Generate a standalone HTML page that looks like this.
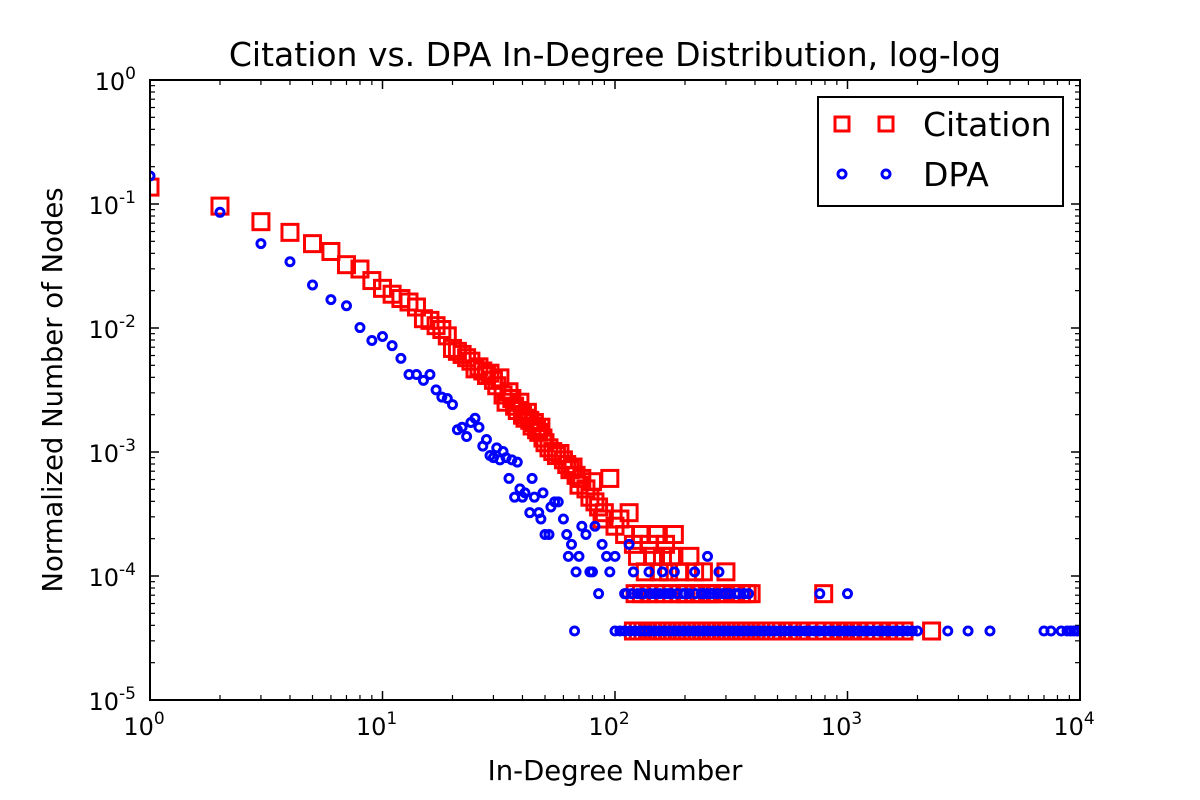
<!DOCTYPE html>
<html><head><meta charset="utf-8"><style>
html,body{margin:0;padding:0;background:#fff;}
svg{display:block;font-family:"DejaVu Sans","Liberation Sans",sans-serif;}
</style></head><body>
<svg id="chart" width="1200" height="800" viewBox="0 0 1200 800" xmlns="http://www.w3.org/2000/svg">
<rect width="1200" height="800" fill="#fff"/>
<text x="615" y="66" font-size="33" text-anchor="middle">Citation vs. DPA In-Degree Distribution, log-log</text>
<text x="615" y="780" font-size="27.5" text-anchor="middle">In-Degree Number</text>
<text transform="translate(62,390) rotate(-90)" font-size="27.5" text-anchor="middle">Normalized Number of Nodes</text>
<g id="ticks"></g>
<g id="marks"></g>
<rect x="150" y="80" width="930" height="620" fill="none" stroke="#000" stroke-width="2"/>
<g>
<rect x="818" y="97" width="245" height="109" fill="#fff" stroke="#000" stroke-width="2"/>
<g>
<rect x="835" y="117" width="14" height="14" fill="none" stroke="#f00" stroke-width="3"/>
<rect x="879" y="117" width="14" height="14" fill="none" stroke="#f00" stroke-width="3"/>
<text x="923" y="136" font-size="33">Citation</text></g>
<g>
<circle cx="842" cy="174" r="4" fill="none" stroke="#00f" stroke-width="3"/>
<circle cx="886" cy="174" r="4" fill="none" stroke="#00f" stroke-width="3"/>
<text x="923" y="186" font-size="33">DPA</text></g>
</g>
</svg>
<script>
const TOTAL = 27770;
const xTickExps = [0,1,2,3,4];
const yTickExps = [-5,-4,-3,-2,-1,0];
const citDeg = [1,2,3,4,5,6,7,8,9,10,11,12,13,14,15,16,17,18,19,20,21,22,23,24,25,26,27,28,29,30,31,32,33,34,35,36,37,38,39,40,41,42,43,44,45,46,47,48,49,50,52,54,56,58,60,62,64,66,68,70,72,75,78,80,82,85,88,90,95,100,105,110,115,120,125,130,135,140,145,150,155,160,165,170,175,180,190,200,210,220,230,240,250,260,300,330,370,790];
const citCnt = [3800,2670,2000,1640,1330,1150,900,830,670,580,520,480,450,410,330,320,290,270,240,190,180,170,160,150,130,135,125,115,120,105,95,110,80,70,85,75,65,60,70,55,52,58,50,45,48,42,40,44,36,33,30,28,26,27,24,22,20,21,18,15,17,14,12,16,11,10,8,9,17,7,8,6,9,5,4,6,3,5,4,6,3,4,5,3,4,6,3,2,4,3,2,3,2,2,3,2,2,2];
const citTailDeg = [120,126,132,138,145,152,160,168,176,185,194,204,214,225,236,248,260,273,287,301,316,332,349,366,385,404,424,445,470,495,520,560,620,680,740,800,860,920,980,1050,1120,1200,1300,1400,1500,1600,1750,2300];
const citTailCnt = citTailDeg.map(()=>1);
const citTwoDeg = [122,130,140,150,162,175,188,202,218,235,255,275,290,320,350,385];
const citTwoCnt = citTwoDeg.map(()=>2);
const dpaDeg = [1,2,3,4,5,6,7,8,9,10,11,12,13,14,15,16,17,18,19,20,21,22,23,24,25,26,27,28,29,30,31,32,33,34,35,36,37,38,39,40,41,43,44,45,47,48,49,50,52,53,55,57,60,62,63,65,68,70,72,75,78,80,82,85,88,92,95,100,110,115,120,130,140,150,160,170,180,200,220,240,250,260,280,300,330,360,760,1000];
const dpaCnt = [4670,2380,1330,950,617,470,420,280,220,237,200,158,117,117,105,117,88,77,75,67,42,44,37,48,52,44,31,35,26,25,30,24,28,25,17,24,12,23,14,12,13,9,17,12,9,8,13,6,6,10,11,11,8,6,4,5,3,4,7,6,3,3,7,2,5,4,3,4,2,5,3,2,3,2,3,2,3,2,3,2,4,2,3,2,2,2,2,2];
const dpaTwoDeg = [112,118,125,133,142,148,156,165,175,185,196,208,222,235,248,262,275,290,310,340,375];
const dpaTwoCnt = dpaTwoDeg.map(()=>2);
const dpaTailDeg = [67,100,105,110,116,122,128,134,140,147,154,162,170,178,187,196,206,216,227,238,250,262,275,289,303,318,334,351,368,386,405,425,446,468,491,515,540,567,595,625,656,688,722,758,796,835,877,920,966,1014,1064,1117,1172,1230,1291,1355,1422,1492,1566,1644,1725,1810,1900,2000,2700,3300,4100,7000,7500,8300,8800,9100,9400,9700];
const dpaTailCnt = dpaTailDeg.map(()=>1);

const NS="http://www.w3.org/2000/svg";
const X0=150,X1=1080,Y0=700,Y1=80;
function xs(v){return X0+(Math.log10(v)-0)/4*(X1-X0);}
function ys(v){return Y0-(Math.log10(v)+5)/5*(Y0-Y1);}
function mk(tag,attrs,parent){const e=document.createElementNS(NS,tag);for(const k in attrs)e.setAttribute(k,attrs[k]);parent.appendChild(e);return e;}
const tg=document.getElementById('ticks');
xTickExps.forEach(e=>{
  const x=xs(Math.pow(10,e));
  const l1=mk('line',{x1:x,x2:x,y1:Y0,y2:Y0-9,stroke:'#000','stroke-width':1.5},tg);
  
  
  mk('line',{x1:x,x2:x,y1:Y1,y2:Y1+9,stroke:'#000','stroke-width':1.5},tg);
  const t=mk('text',{x:x-6,y:735,'font-size':24,'text-anchor':'middle'},tg);
  
  
  t.innerHTML='10<tspan dy="-11" font-size="17">'+e+'</tspan>';
  if(e<4)for(let m=2;m<10;m++){const xm=xs(m*Math.pow(10,e));
    mk('line',{x1:xm,x2:xm,y1:Y0,y2:Y0-5,stroke:'#000','stroke-width':1.2},tg);
    mk('line',{x1:xm,x2:xm,y1:Y1,y2:Y1+5,stroke:'#000','stroke-width':1.2},tg);}
});
yTickExps.forEach(e=>{
  const y=ys(Math.pow(10,e));
  mk('line',{x1:X0,x2:X0+9,y1:y,y2:y,stroke:'#000','stroke-width':1.5},tg);
  mk('line',{x1:X1,x2:X1-9,y1:y,y2:y,stroke:'#000','stroke-width':1.5},tg);
  const t=mk('text',{x:136,y:y+10,'font-size':24,'text-anchor':'end'},tg);
  
  
  t.innerHTML='10<tspan dy="-11" font-size="17">'+e+'</tspan>';
  if(e<0)for(let m=2;m<10;m++){const ym=ys(m*Math.pow(10,e));
    mk('line',{x1:X0,x2:X0+5,y1:ym,y2:ym,stroke:'#000','stroke-width':1.2},tg);
    mk('line',{x1:X1,x2:X1-5,y1:ym,y2:ym,stroke:'#000','stroke-width':1.2},tg);}
});
const mg=document.getElementById('marks');
const clip=mk('clipPath',{id:'pc'},mg);mk('rect',{x:X0,y:Y1,width:X1-X0,height:Y0-Y1},clip);
const cg=mk('g',{'clip-path':'url(#pc)'},mg);
function sq(d,c){const r=mk('rect',{x:xs(d)-8,y:ys(c/TOTAL)-8,width:16,height:16,fill:'none',stroke:'#f00','stroke-width':3},cg);
  
  }
function ci(d,c){const r=mk('circle',{cx:xs(d),cy:ys(c/TOTAL),r:4,fill:'none',stroke:'#00f','stroke-width':3},cg);
  
  }
citDeg.forEach((d,i)=>sq(d,citCnt[i]));
citTwoDeg.forEach((d,i)=>sq(d,citTwoCnt[i]));
citTailDeg.forEach((d,i)=>sq(d,citTailCnt[i]));
dpaDeg.forEach((d,i)=>ci(d,dpaCnt[i]));
dpaTwoDeg.forEach((d,i)=>ci(d,dpaTwoCnt[i]));
dpaTailDeg.forEach((d,i)=>ci(d,dpaTailCnt[i]));
</script>
</body></html>
